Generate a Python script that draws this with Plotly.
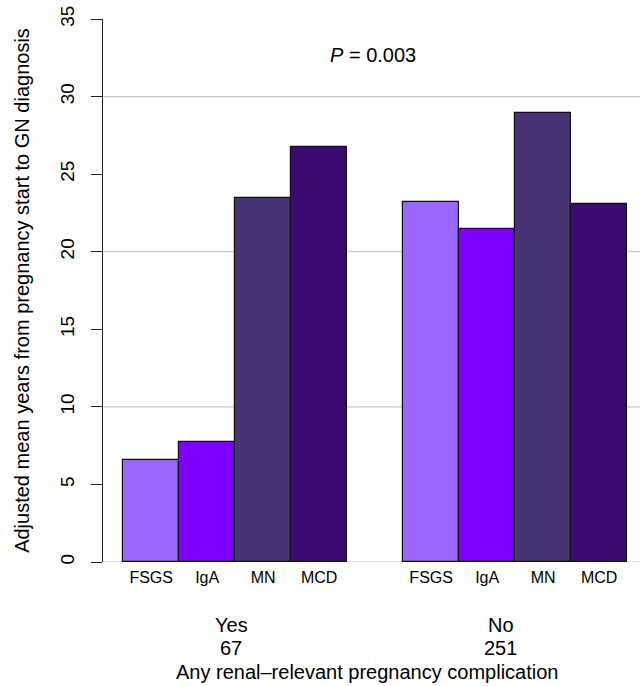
import plotly.graph_objects as go

# ---- data ----
subtypes = ["FSGS", "IgA", "MN", "MCD"]
groups = ["Yes", "No"]
group_counts = ["67", "251"]
values_yes = [6.56, 7.72, 23.46, 26.75]
values_no = [23.2, 21.44, 28.92, 23.1]
colors = ["#9966FF", "#7F00FF", "#483475", "#3D0A6F"]
y_ticks = [0, 5, 10, 15, 20, 25, 30, 35]
grid_vals = [0, 10, 20, 30]
p_text = "<i>P</i> = 0.003"
x_title = "Any renal\u2013relevant pregnancy complication"
y_title = "Adjusted mean years from pregnancy start to GN diagnosis"

series = [values_yes, values_no]
n = len(subtypes)

fig = go.Figure()
tickvals, ticktext = [], []
for i, name in enumerate(subtypes):
    xs, ys = [], []
    for g, vals in enumerate(series):
        pos = 1 + g * (n + 1) + i + 0.5
        xs.append(pos)
        ys.append(vals[i])
    fig.add_trace(go.Bar(
        x=xs, y=ys, width=1, name=name,
        marker=dict(color=colors[i], line=dict(color="#111111", width=1.2)),
        showlegend=False,
    ))
for g in range(len(series)):
    for i, name in enumerate(subtypes):
        tickvals.append(1 + g * (n + 1) + i + 0.5)
        ticktext.append(name)

font = "Liberation Sans, Arial, sans-serif"

shapes = [
    dict(type="line", xref="paper", x0=0, x1=1, yref="y", y0=v, y1=v,
         line=dict(color="#c8c8c8", width=1.2), layer="below")
    for v in grid_vals
]

big = 20
annotations = [
    dict(text=p_text, xref="x", yref="y", x=5.46, y=32.7, showarrow=False,
         xanchor="center", font=dict(size=big, color="black", family=font)),
]
group_xpaper = [0.2384, 0.741]
for g, lab in enumerate(groups):
    annotations.append(dict(text=lab, xref="paper", yref="paper", x=group_xpaper[g], y=0,
                            xanchor="center", yanchor="middle", yshift=-63, showarrow=False,
                            font=dict(size=big, color="black", family=font)))
    annotations.append(dict(text=group_counts[g], xref="paper", yref="paper", x=group_xpaper[g], y=0,
                            xanchor="center", yanchor="middle", yshift=-86, showarrow=False,
                            font=dict(size=big, color="black", family=font)))
annotations.append(dict(text=x_title, xref="paper", yref="paper", x=0.4916, y=0,
                        xanchor="center", yanchor="middle", yshift=-110, showarrow=False,
                        font=dict(size=big, color="black", family=font)))

fig.update_layout(
    width=640, height=686,
    margin=dict(l=103, r=0, t=19, b=124),
    paper_bgcolor="white", plot_bgcolor="white",
    bargap=0,
    shapes=shapes,
    annotations=annotations,
    font=dict(family=font, size=16, color="black"),
    xaxis=dict(range=[0.64, 10.23], showgrid=False, zeroline=False, showline=False,
               tickvals=tickvals, ticktext=ticktext, ticks="", automargin=False,
               tickfont=dict(size=16, color="black"), ticklabelstandoff=4),
    yaxis=dict(range=[0, 35], showgrid=False, zeroline=False, showline=True,
               linecolor="#222222", linewidth=1.3, automargin=False,
               tickvals=y_ticks, ticks="outside", ticklen=11, tickcolor="#222222",
               tickwidth=1.3, tickangle=-90,
               tickfont=dict(size=19, color="black"), ticklabelstandoff=9,
               title=dict(text=y_title, font=dict(size=big, color="black"), standoff=22)),
)

fig.write_html("out.html", config={"displayModeBar": False},
               post_script="document.body.style.margin='0px';document.body.style.overflow='hidden';")
